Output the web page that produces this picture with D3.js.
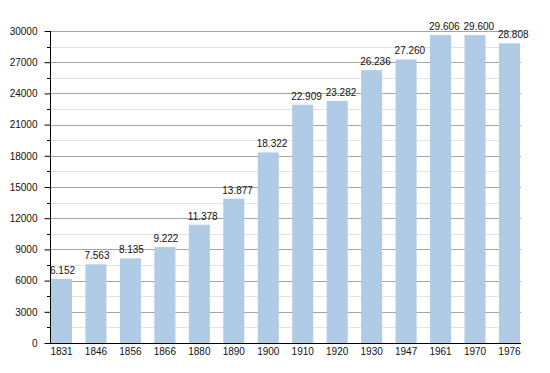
<!DOCTYPE html>
<html>
<head>
<meta charset="utf-8">
<script src="https://cdn.jsdelivr.net/npm/d3@7"></script>
<style>
  body { margin: 0; background: #fff; }
  svg text { font-family: "Liberation Sans", Arial, sans-serif; font-size: 10px; fill: #111; }
</style>
</head>
<body>
<svg id="chart" width="550" height="373"></svg>
<script>
const years = ['1831', '1846', '1856', '1866', '1880', '1890', '1900', '1910', '1920', '1930', '1947', '1961', '1970', '1976']
const population = [6152, 7563, 8135, 9222, 11378, 13877, 18322, 22909, 23282, 26236, 27260, 29606, 29600, 28808]
const yTicks = [0, 3000, 6000, 9000, 12000, 15000, 18000, 21000, 24000, 27000, 30000]
const yMinor = d3.range(1500, 30000, 3000)

const svg = d3.select('#chart')
const plotLeft = 50, plotRight = 521, plotTop = 31, plotBottom = 343

const xScale = d3.scaleBand().domain(years).range([plotLeft + 1, plotRight - 1]).paddingInner(0.39).paddingOuter(0)
const yScale = d3.scaleLinear().domain([0, 30000]).range([plotBottom, plotTop])

// minor gridlines
svg.append('g').selectAll('line').data(yMinor).enter().append('line')
    .attr('x1', plotLeft).attr('x2', plotRight)
    .attr('y1', d => Math.round(yScale(d)) + 0.5).attr('y2', d => Math.round(yScale(d)) + 0.5)
    .attr('stroke', '#e2e2e2')

// major gridlines
svg.append('g').selectAll('line').data(yTicks.slice(1)).enter().append('line')
    .attr('x1', plotLeft).attr('x2', plotRight)
    .attr('y1', d => Math.round(yScale(d)) + 0.5).attr('y2', d => Math.round(yScale(d)) + 0.5)
    .attr('stroke', '#a4a4a4')

// bars
svg.append('g').selectAll('rect').data(population).enter().append('rect')
    .attr('x', (d, i) => xScale(years[i]))
    .attr('width', xScale.bandwidth())
    .attr('y', d => yScale(d))
    .attr('height', d => yScale(0) - yScale(d))
    .attr('fill', '#b0cbe5')

// value labels, left aligned on the bar
const fmt = d3.formatLocale({ decimal: ',', thousands: '.', grouping: [3], currency: ['', ''] }).format(',d')
svg.append('g').selectAll('text').data(population).enter().append('text')
    .attr('x', (d, i) => xScale(years[i]) - 1)
    .attr('y', d => yScale(d) - 5)
    .attr('text-anchor', 'start')
    .text(d => fmt(d))

// y axis
const yAxis = d3.axisLeft(yScale).tickValues(yTicks).tickFormat(d3.format('d')).tickSize(6).tickPadding(7)
const ya = svg.append('g').attr('transform', 'translate(' + (plotLeft + 0.5) + ',0)').call(yAxis)
ya.select('.domain').remove()
ya.selectAll('text').style('font-size', '10px')
svg.append('g').selectAll('line').data(yMinor).enter().append('line')
    .attr('x1', plotLeft - 3).attr('x2', plotLeft)
    .attr('y1', d => Math.round(yScale(d)) + 0.5).attr('y2', d => Math.round(yScale(d)) + 0.5)
    .attr('stroke', '#000')
svg.append('line').attr('x1', plotLeft + 0.5).attr('x2', plotLeft + 0.5).attr('y1', plotTop).attr('y2', plotBottom + 1).attr('stroke', '#000')

// x axis
svg.append('line').attr('x1', plotLeft).attr('x2', plotRight).attr('y1', plotBottom + 0.5).attr('y2', plotBottom + 0.5).attr('stroke', '#000')
svg.append('g').selectAll('text').data(years).enter().append('text')
    .attr('x', d => xScale(d) + xScale.bandwidth() / 2)
    .attr('y', plotBottom + 12)
    .attr('text-anchor', 'middle')
    .text(d => d)
</script>
</body>
</html>
